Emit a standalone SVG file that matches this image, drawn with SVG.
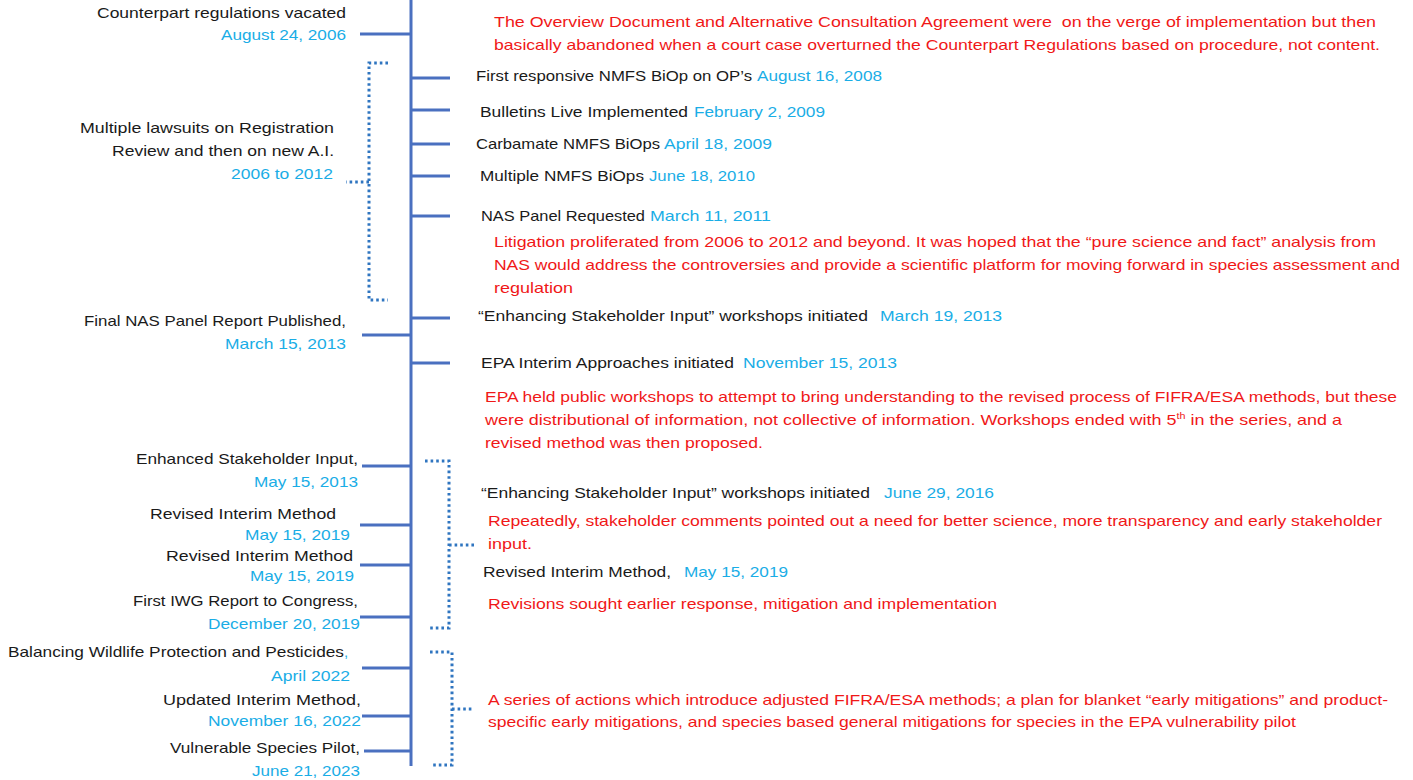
<svg xmlns="http://www.w3.org/2000/svg" width="1413" height="780" viewBox="0 0 1413 780">
<style>
text{font-family:"Liberation Sans",Arial,sans-serif;font-size:15px}
.k{fill:#1a1a1a}
.b{fill:#1aade6}
.r{fill:#f01818}
.axis{stroke:#4a70c0;stroke-width:3;fill:none}
.tick{stroke:#4a70c0;stroke-width:3;fill:none}
.br{stroke:#2f75c0;stroke-width:3;fill:none;stroke-dasharray:2.6 3;stroke-linecap:butt;stroke-linejoin:miter}
</style>
<rect width="1413" height="780" fill="#fff"/>
<g id="connectors">
<line class="axis" x1="411" y1="0" x2="411" y2="766"/>
<line class="tick" x1="360" y1="34" x2="411" y2="34"/>
<line class="tick" x1="362" y1="335" x2="411" y2="335"/>
<line class="tick" x1="362" y1="466" x2="411" y2="466"/>
<line class="tick" x1="360" y1="525" x2="411" y2="525"/>
<line class="tick" x1="360" y1="565" x2="411" y2="565"/>
<line class="tick" x1="360" y1="617" x2="411" y2="617"/>
<line class="tick" x1="362" y1="668" x2="411" y2="668"/>
<line class="tick" x1="362" y1="716" x2="411" y2="716"/>
<line class="tick" x1="364" y1="751" x2="411" y2="751"/>
<line class="tick" x1="411" y1="78" x2="450" y2="78"/>
<line class="tick" x1="411" y1="110" x2="450" y2="110"/>
<line class="tick" x1="411" y1="144" x2="450" y2="144"/>
<line class="tick" x1="411" y1="176" x2="450" y2="176"/>
<line class="tick" x1="411" y1="216" x2="450" y2="216"/>
<line class="tick" x1="411" y1="318" x2="450" y2="318"/>
<line class="tick" x1="411" y1="363" x2="450" y2="363"/>
<path class="br" d="M388 63 H369 V300 H388 M369 182 H346"/>
<path class="br" d="M425 461 H449 V628 H428 M449 545 H474"/>
<path class="br" d="M430 652 H452 V765 H433 M452 709 H473"/>
</g>
<g id="node-counterpart">
<text class="k" x="97" y="18" textLength="249" lengthAdjust="spacingAndGlyphs">Counterpart regulations vacated</text>
<text class="b" x="221" y="40" textLength="125" lengthAdjust="spacingAndGlyphs">August 24, 2006</text>
</g>
<g id="node-lawsuits">
<text class="k" x="80" y="133" textLength="254" lengthAdjust="spacingAndGlyphs">Multiple lawsuits on Registration</text>
<text class="k" x="112" y="156" textLength="222" lengthAdjust="spacingAndGlyphs">Review and then on new A.I.</text>
<text class="b" x="231" y="179" textLength="102" lengthAdjust="spacingAndGlyphs">2006 to 2012</text>
</g>
<g id="node-final-nas">
<text class="k" x="84" y="326" textLength="262" lengthAdjust="spacingAndGlyphs">Final NAS Panel Report Published,</text>
<text class="b" x="225" y="349" textLength="121" lengthAdjust="spacingAndGlyphs">March 15, 2013</text>
</g>
<g id="node-enhanced">
<text class="k" x="136" y="464" textLength="222" lengthAdjust="spacingAndGlyphs">Enhanced Stakeholder Input,</text>
<text class="b" x="254" y="487" textLength="104" lengthAdjust="spacingAndGlyphs">May 15, 2013</text>
</g>
<g id="node-revised-1">
<text class="k" x="150" y="519" textLength="186" lengthAdjust="spacingAndGlyphs">Revised Interim Method</text>
<text class="b" x="245" y="540" textLength="105" lengthAdjust="spacingAndGlyphs">May 15, 2019</text>
</g>
<g id="node-revised-2">
<text class="k" x="166" y="561" textLength="187" lengthAdjust="spacingAndGlyphs">Revised Interim Method</text>
<text class="b" x="250" y="581" textLength="104" lengthAdjust="spacingAndGlyphs">May 15, 2019</text>
</g>
<g id="node-iwg">
<text class="k" x="133" y="606" textLength="225" lengthAdjust="spacingAndGlyphs">First IWG Report to Congress,</text>
<text class="b" x="208" y="629" textLength="152" lengthAdjust="spacingAndGlyphs">December 20, 2019</text>
</g>
<g id="node-balancing">
<text class="k" x="8" y="657" textLength="336" lengthAdjust="spacingAndGlyphs">Balancing Wildlife Protection and Pesticides</text>
<text class="b" x="344" y="657">,</text>
<text class="b" x="271" y="681" textLength="79" lengthAdjust="spacingAndGlyphs">April 2022</text>
</g>
<g id="node-updated">
<text class="k" x="163" y="705" textLength="198" lengthAdjust="spacingAndGlyphs">Updated Interim Method,</text>
<text class="b" x="208" y="726" textLength="153" lengthAdjust="spacingAndGlyphs">November 16, 2022</text>
</g>
<g id="node-vulnerable">
<text class="k" x="170" y="753" textLength="190" lengthAdjust="spacingAndGlyphs">Vulnerable Species Pilot,</text>
<text class="b" x="252" y="776" textLength="108" lengthAdjust="spacingAndGlyphs">June 21, 2023</text>
</g>
<g id="note-overview">
<text class="r" x="494" y="27" textLength="882" lengthAdjust="spacingAndGlyphs" xml:space="preserve">The Overview Document and Alternative Consultation Agreement were  on the verge of implementation but then</text>
<text class="r" x="494" y="50" textLength="886" lengthAdjust="spacingAndGlyphs">basically abandoned when a court case overturned the Counterpart Regulations based on procedure, not content.</text>
</g>
<g id="node-first-responsive">
<text class="k" x="476" y="81" textLength="276" lengthAdjust="spacingAndGlyphs">First responsive NMFS BiOp on OP’s</text>
<text class="b" x="757" y="81" textLength="125" lengthAdjust="spacingAndGlyphs">August 16, 2008</text>
</g>
<g id="node-bulletins">
<text class="k" x="480" y="117" textLength="208" lengthAdjust="spacingAndGlyphs">Bulletins Live Implemented</text>
<text class="b" x="694" y="117" textLength="131" lengthAdjust="spacingAndGlyphs">February 2, 2009</text>
</g>
<g id="node-carbamate">
<text class="k" x="476" y="149" textLength="184" lengthAdjust="spacingAndGlyphs">Carbamate NMFS BiOps</text>
<text class="b" x="664" y="149" textLength="108" lengthAdjust="spacingAndGlyphs">April 18, 2009</text>
</g>
<g id="node-multiple">
<text class="k" x="480" y="181" textLength="164" lengthAdjust="spacingAndGlyphs">Multiple NMFS BiOps</text>
<text class="b" x="649" y="181" textLength="106" lengthAdjust="spacingAndGlyphs">June 18, 2010</text>
</g>
<g id="node-nas-requested">
<text class="k" x="481" y="221" textLength="164" lengthAdjust="spacingAndGlyphs">NAS Panel Requested</text>
<text class="b" x="650" y="221" textLength="121" lengthAdjust="spacingAndGlyphs">March 11, 2011</text>
</g>
<g id="note-litigation">
<text class="r" x="494" y="247" textLength="882" lengthAdjust="spacingAndGlyphs">Litigation proliferated from 2006 to 2012 and beyond. It was hoped that the “pure science and fact” analysis from</text>
<text class="r" x="494" y="270" textLength="906" lengthAdjust="spacingAndGlyphs">NAS would address the controversies and provide a scientific platform for moving forward in species assessment and</text>
<text class="r" x="494" y="293" textLength="79" lengthAdjust="spacingAndGlyphs">regulation</text>
</g>
<g id="node-workshops-2013">
<text class="k" x="478" y="321" textLength="390" lengthAdjust="spacingAndGlyphs">“Enhancing Stakeholder Input” workshops initiated</text>
<text class="b" x="880" y="321" textLength="122" lengthAdjust="spacingAndGlyphs">March 19, 2013</text>
</g>
<g id="node-epa-interim">
<text class="k" x="481" y="368" textLength="253" lengthAdjust="spacingAndGlyphs">EPA Interim Approaches initiated</text>
<text class="b" x="743" y="368" textLength="154" lengthAdjust="spacingAndGlyphs">November 15, 2013</text>
</g>
<g id="note-epa-workshops">
<text class="r" x="485" y="402" textLength="912" lengthAdjust="spacingAndGlyphs">EPA held public workshops to attempt to bring understanding to the revised process of FIFRA/ESA methods, but these</text>
<text class="r" x="485" y="425" textLength="857" lengthAdjust="spacingAndGlyphs">were distributional of information, not collective of information. Workshops ended with 5<tspan dy="-6" style="font-size:9px">th</tspan><tspan dy="6"> in the series, and a</tspan></text>
<text class="r" x="485" y="448" textLength="278" lengthAdjust="spacingAndGlyphs">revised method was then proposed.</text>
</g>
<g id="node-workshops-2016">
<text class="k" x="481" y="498" textLength="389" lengthAdjust="spacingAndGlyphs">“Enhancing Stakeholder Input” workshops initiated</text>
<text class="b" x="884" y="498" textLength="110" lengthAdjust="spacingAndGlyphs">June 29, 2016</text>
</g>
<g id="note-repeatedly">
<text class="r" x="488" y="526" textLength="894" lengthAdjust="spacingAndGlyphs">Repeatedly, stakeholder comments pointed out a need for better science, more transparency and early stakeholder</text>
<text class="r" x="488" y="549" textLength="44" lengthAdjust="spacingAndGlyphs">input.</text>
</g>
<g id="node-revised-right">
<text class="k" x="483" y="577" textLength="188" lengthAdjust="spacingAndGlyphs">Revised Interim Method,</text>
<text class="b" x="684" y="577" textLength="104" lengthAdjust="spacingAndGlyphs">May 15, 2019</text>
</g>
<g id="note-revisions">
<text class="r" x="488" y="609" textLength="509" lengthAdjust="spacingAndGlyphs">Revisions sought earlier response, mitigation and implementation</text>
</g>
<g id="note-series">
<text class="r" x="488" y="705" textLength="900" lengthAdjust="spacingAndGlyphs">A series of actions which introduce adjusted FIFRA/ESA methods; a plan for blanket “early mitigations” and product-</text>
<text class="r" x="488" y="727" textLength="808" lengthAdjust="spacingAndGlyphs">specific early mitigations, and species based general mitigations for species in the EPA vulnerability pilot</text>
</g>
</svg>
